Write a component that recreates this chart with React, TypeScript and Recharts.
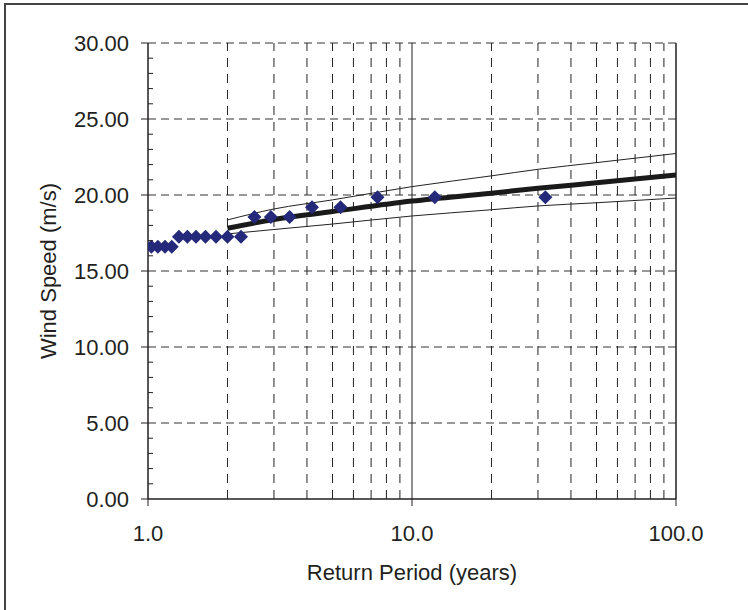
import {
  ComposedChart,
  Line,
  Scatter,
  XAxis,
  YAxis,
  ReferenceLine,
  Label,
} from 'recharts'

const returnPeriods = [1.03, 1.09, 1.16, 1.23, 1.31, 1.41, 1.52, 1.65, 1.81, 2.0, 2.25, 2.53, 2.92, 3.44, 4.18, 5.36, 7.4, 12.2, 32.0]
const windSpeeds = [16.6, 16.6, 16.6, 16.6, 17.25, 17.25, 17.25, 17.25, 17.25, 17.25, 17.25, 18.55, 18.55, 18.55, 19.2, 19.2, 19.85, 19.85, 19.85]

// fitted curve with confidence band
const fitPeriods = [2, 3, 5, 10, 20, 30, 50, 100]
const fitMean = [17.81, 18.39, 18.91, 19.6, 20.12, 20.44, 20.8, 21.32]
const fitUpper = [18.36, 19.08, 19.68, 20.55, 21.26, 21.69, 22.13, 22.73]
const fitLower = [17.44, 17.73, 18.09, 18.62, 19.03, 19.28, 19.49, 19.8]

const xTicks = [1, 10, 100]
const xMinorGrid = [2, 3, 4, 5, 6, 7, 8, 9, 20, 30, 40, 50, 60, 70, 80, 90]
const yMajorTicks = [0, 5, 10, 15, 20, 25, 30]
const yAllTicks = Array.from({ length: 31 }, (_, i) => i)

const FONT = '"Liberation Sans", Arial, sans-serif'
const INK = '#231f20'
const MARKER = '#25297a'

const points = returnPeriods.map((x, i) => ({ x, y: windSpeeds[i] }))
const fitRows = fitPeriods.map((x, i) => ({ x, mean: fitMean[i], upper: fitUpper[i], lower: fitLower[i] }))

const TICK_SIZE = 7
const TICK_MARGIN = 12

function YTick(props: any) {
  const { x, y, payload } = props
  const axisX = x + TICK_SIZE + TICK_MARGIN
  const v = payload.value
  if (yMajorTicks.includes(v)) {
    return (
      <g>
        <line x1={axisX - TICK_SIZE} x2={axisX} y1={y} y2={y} stroke={INK} strokeWidth={1} />
        <text x={x} y={y} dy="0.36em" textAnchor="end" fontSize={22} fontFamily={FONT} fill={INK}>
          {v.toFixed(2)}
        </text>
      </g>
    )
  }
  return <line x1={axisX} x2={axisX + 5} y1={y} y2={y} stroke={INK} strokeWidth={1} />
}

function Diamond(props: any) {
  const { cx, cy } = props
  const r = 7
  return (
    <polygon
      points={`${cx},${cy - r} ${cx + r},${cy} ${cx},${cy + r} ${cx - r},${cy}`}
      fill={MARKER}
    />
  )
}

export default function App() {
  return (
    <div style={{ position: 'absolute', left: 0, top: 0, width: 748, height: 610, overflow: 'hidden', background: '#fff' }}>
      <div
        style={{
          position: 'absolute',
          left: 4,
          top: 3,
          width: 800,
          height: 700,
          borderLeft: '2px solid #444',
          borderTop: '2px solid #444',
        }}
      />
      <div style={{ position: 'absolute', left: 0, top: 0 }}>
        <ComposedChart width={748} height={610} margin={{ top: 43, right: 72, left: 0, bottom: 0 }}>
          <XAxis
            dataKey="x"
            type="number"
            scale="log"
            domain={[1, 100]}
            ticks={xTicks}
            interval={0}
            allowDataOverflow
            height={111}
            tickSize={TICK_SIZE}
            tickMargin={19}
            tickFormatter={(v: number) => v.toFixed(1)}
            tick={{ fontSize: 22, fontFamily: FONT, fill: INK }}
            stroke={INK}
            tickLine={{ stroke: INK }}
            axisLine={{ stroke: INK, strokeWidth: 1.5 }}
          >
            <Label
              value="Return Period (years)"
              position="insideBottom"
              offset={30}
              style={{ fontSize: 22, fontFamily: FONT, fill: INK }}
            />
          </XAxis>
          <YAxis
            type="number"
            domain={[0, 30]}
            ticks={yAllTicks}
            interval={0}
            width={148}
            tickSize={TICK_SIZE}
            tickMargin={TICK_MARGIN}
            tickLine={false}
            tick={<YTick />}
            axisLine={{ stroke: INK, strokeWidth: 1.5 }}
          >
            <Label
              content={() => (
                <text
                  x={56}
                  y={271}
                  transform="rotate(-90 56 271)"
                  textAnchor="middle"
                  fontSize={22}
                  fontFamily={FONT}
                  fill={INK}
                >
                  Wind Speed (m/s)
                </text>
              )}
            />
          </YAxis>

          {yMajorTicks.slice(1).map((v) => (
            <ReferenceLine key={`h${v}`} y={v} stroke="#333" strokeDasharray="8 5" />
          ))}
          {xMinorGrid.map((v) => (
            <ReferenceLine key={`v${v}`} x={v} stroke="#222" strokeDasharray="9 7" />
          ))}
          <ReferenceLine x={10} stroke={INK} strokeWidth={1} />
          <ReferenceLine x={100} stroke={INK} strokeWidth={1.5} />

          <Line data={fitRows} dataKey="upper" type="monotone" stroke="#222" strokeWidth={1} dot={false} isAnimationActive={false} />
          <Line data={fitRows} dataKey="lower" type="monotone" stroke="#222" strokeWidth={1} dot={false} isAnimationActive={false} />
          <Line data={fitRows} dataKey="mean" type="monotone" stroke="#1a1a1a" strokeWidth={5} dot={false} isAnimationActive={false} />
          <Scatter data={points} dataKey="y" shape={<Diamond />} isAnimationActive={false} />
        </ComposedChart>
      </div>
    </div>
  )
}
